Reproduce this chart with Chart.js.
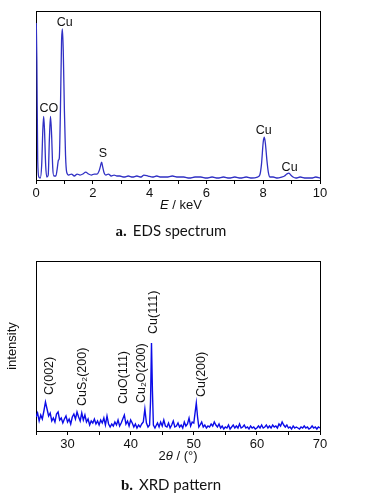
<!DOCTYPE html>
<html>
<head>
<meta charset="utf-8">
<script src="https://cdn.jsdelivr.net/npm/chart.js@4.4.1/dist/chart.umd.min.js"></script>
<style>
	body{ margin:0; background:#fff; width:370px; height:496px; position:relative; overflow:hidden; font-family:'Liberation Sans', Arial, sans-serif; }
	canvas{ position:absolute; left:0; }
	.axis-title{ position:absolute; font-size:13px; color:#111; transform:translateX(-50%); white-space:nowrap; }
	.caption{ position:absolute; font-family:Lato, 'Open Sans', sans-serif; font-size:15px; color:#111; transform:translateX(-50%); white-space:nowrap; }
	.caption b{ font-family:'Liberation Serif', serif; margin-right:6px; }
</style>
</head>
<body>
<canvas id="eds_graph" width="370" height="215" style="top:0"></canvas>
<div class="axis-title" style="left:181px; top:197px"><i>E</i> / keV</div>
<div class="caption" style="left:171px; top:221px"><b>a.</b>EDS spectrum</div>

<canvas id="xrd_graph" width="370" height="216" style="top:250px"></canvas>
<div class="axis-title" style="left:178px; top:448px">2<i>θ</i> / (°)</div>
<div class="caption" style="left:171px; top:475px"><b>b.</b>XRD pattern</div>

<script>
// EDS spectrum, energy in keV, counts in arbitrary units
const edsEnergy = [0.01, 0.03, 0.06, 0.1, 0.15, 0.2, 0.24, 0.27, 0.3, 0.34, 0.38, 0.43, 0.47, 0.51, 0.55, 0.59, 0.63, 0.7, 0.75, 0.79, 0.82,
	0.86, 0.9, 0.93, 0.96, 1, 1.04, 1.08, 1.15, 1.25, 1.35, 1.45, 1.55, 1.65, 1.75, 1.85, 1.95, 2.05, 2.15, 2.22, 2.27, 2.31, 2.35, 2.4,
	2.46, 2.55, 2.65, 2.75, 2.85, 2.95, 3.1, 3.25, 3.4, 3.55, 3.7, 3.8, 3.95, 4.1, 4.25, 4.4, 4.6, 4.8, 5, 5.2, 5.4, 5.6, 5.8, 6, 6.2,
	6.4, 6.6, 6.8, 7, 7.2, 7.4, 7.6, 7.8, 7.88, 7.94, 8, 8.04, 8.08, 8.13, 8.18, 8.24, 8.35, 8.5, 8.65, 8.75, 8.83, 8.9, 8.97, 9.05,
	9.15, 9.3, 9.5, 9.7, 9.85, 10]
const edsCounts = [158, 120, 20, 3, 2, 15, 50, 64, 50, 15, 3, 5, 40, 64, 45, 12, 4, 4, 12, 20, 22,
	70, 140, 152, 130, 70, 25, 8, 5, 6, 4, 6, 5, 6, 8, 6, 5, 6, 6, 9, 14, 18, 13, 7,
	5, 6, 4, 5, 4, 4, 3, 4, 3, 4, 3, 5, 4, 3, 4, 3, 3, 4, 3, 3, 2, 3, 3, 2, 3,
	2, 3, 2, 3, 2, 3, 2, 3, 5, 16, 38, 43, 36, 20, 8, 3, 3, 2, 3, 4, 6, 7, 5, 3,
	2, 3, 2, 2, 3, 2]
const edsTicks = [0, 2, 4, 6, 8, 10]
const edsLabels = [
	{ text:'Cu', x:1.01, y:158 },
	{ text:'CO', x:0.45, y:72 },
	{ text:'S', x:2.36, y:27 },
	{ text:'Cu', x:8.02, y:50 },
	{ text:'Cu', x:8.93, y:13 }
]

// XRD pattern, 2θ in degrees
const xrdAngle = [25, 25.25, 25.5, 25.75, 26, 26.25, 26.5, 26.75, 27, 27.25, 27.5, 27.75, 28, 28.25, 28.5, 28.75, 29, 29.25, 29.5, 29.75,
	30, 30.25, 30.5, 30.75, 31, 31.25, 31.5, 31.75, 32, 32.25, 32.5, 32.75, 33, 33.25, 33.5, 33.75, 34, 34.25, 34.5, 34.75,
	35, 35.25, 35.5, 35.75, 36, 36.25, 36.5, 36.75, 37, 37.25, 37.5, 37.75, 38, 38.25, 38.5, 38.75, 39, 39.25, 39.5, 39.75,
	40, 40.25, 40.5, 40.75, 41, 41.25, 41.5, 41.75, 42, 42.25, 42.5, 42.75, 43, 43.15, 43.3, 43.45, 43.6, 43.85, 44, 44.25,
	44.5, 44.75, 45, 45.25, 45.5, 45.75, 46, 46.25, 46.5, 46.75, 47, 47.25, 47.5, 47.75, 48, 48.25, 48.5, 48.75, 49, 49.25,
	49.5, 49.75, 50, 50.2, 50.4, 50.6, 50.8, 51, 51.25, 51.5, 51.75, 52, 52.25, 52.5, 52.75, 53, 53.25, 53.5, 53.75, 54,
	54.25, 54.5, 54.75, 55, 55.25, 55.5, 55.75, 56, 56.25, 56.5, 56.75, 57, 57.25, 57.5, 57.75, 58, 58.25, 58.5, 58.75, 59,
	59.25, 59.5, 59.75, 60, 60.25, 60.5, 60.75, 61, 61.25, 61.5, 61.75, 62, 62.25, 62.5, 62.75, 63, 63.25, 63.5, 63.75, 64,
	64.25, 64.5, 64.75, 65, 65.25, 65.5, 65.75, 66, 66.25, 66.5, 66.75, 67, 67.25, 67.5, 67.75, 68, 68.25, 68.5, 68.75, 69,
	69.25, 69.5, 69.75, 70]
const xrdIntensity = [14, 18, 10, 16, 12, 20, 29, 22, 15, 18, 10, 13, 9, 17, 19, 11, 13, 8, 12, 15,
	9, 12, 7, 14, 17, 12, 19, 14, 10, 18, 11, 16, 9, 12, 6, 10, 8, 12, 7, 10,
	6, 11, 8, 13, 6, 15, 7, 4, 7, 5, 9, 6, 11, 5, 8, 12, 16, 7, 10, 5,
	11, 8, 4, 7, 3, 6, 4, 7, 9, 22, 8, 4, 6, 30, 88, 40, 6, 3, 5, 8,
	4, 9, 5, 11, 5, 4, 8, 3, 6, 10, 4, 5, 8, 4, 6, 3, 9, 5, 7, 13,
	5, 9, 8, 18, 28, 14, 4, 6, 9, 4, 6, 3, 5, 4, 7, 5, 9, 6, 4, 7,
	3, 5, 2, 4, 3, 6, 2, 4, 6, 3, 5, 3, 7, 3, 4, 6, 3, 4, 2, 5,
	3, 4, 2, 3, 5, 3, 6, 3, 4, 6, 3, 5, 3, 6, 4, 5, 3, 7, 5, 9,
	6, 4, 6, 3, 4, 2, 5, 3, 4, 3, 2, 4, 3, 5, 3, 4, 2, 3, 5, 3,
	4, 2, 4, 3]
const xrdTicks = [30, 40, 50, 60, 70]
const xrdLabels = [
	{ text:'C(002)', x:27.1, y:36 },
	{ text:'CuS₂(200)', x:32.3, y:25 },
	{ text:'CuO(111)', x:38.8, y:27 },
	{ text:'Cu₂O(200)', x:41.7, y:28 },
	{ text:'Cu(111)', x:43.7, y:97 },
	{ text:'Cu(200)', x:51.3, y:34 }
]


const FONT = "'Liberation Sans', Arial, sans-serif"

function toPoints(xs, ys){
	return xs.map((x, i) => ({ x, y:ys[i] }))
}

// black frame round the plot area, under the curve
const framePlugin = {
	id:'frame',
	beforeDatasetsDraw(chart){
		const { ctx, chartArea:a } = chart
		ctx.save()
		ctx.strokeStyle = '#000'
		ctx.lineWidth = 1
		ctx.strokeRect(Math.round(a.left) + 0.5, Math.round(a.top) + 0.5, Math.round(a.right - a.left), Math.round(a.bottom - a.top))
		ctx.restore()
	}
}

// peak labels, placed in data coordinates
const peakLabelPlugin = {
	id:'peakLabels',
	afterDatasetsDraw(chart, args, opts){
		const { ctx, scales } = chart
		ctx.save()
		ctx.fillStyle = '#111'
		ctx.font = opts.font
		for(const l of opts.items){
			const px = scales.x.getPixelForValue(l.x)
			const py = scales.y.getPixelForValue(l.y)
			if(opts.vertical){
				ctx.translate(px, py)
				ctx.rotate(-Math.PI / 2)
				ctx.textAlign = 'left'
				ctx.textBaseline = 'middle'
				ctx.fillText(l.text, 0, 0)
				ctx.setTransform(1, 0, 0, 1, 0, 0)
			}
			else {
				ctx.textAlign = 'center'
				ctx.textBaseline = 'middle'
				ctx.fillText(l.text, px, py)
			}
		}
		ctx.restore()
	}
}

function makeChart(id, points, color, width, xMin, xMax, step, tickValues, labels, vertical, yTitle){
	return new Chart(document.getElementById(id), {
		type:'scatter',
		data:{
			datasets:[
				{
					data:points,
					showLine:true,
					borderColor:color,
					borderWidth:width,
					pointRadius:0,
					cubicInterpolationMode:vertical ? 'default' : 'monotone',
					tension:0
				}
			]
		},
		options:{
			responsive:false,
			animation:false,
			events:[],
			layout:{ padding:{ top:11, right:50, left:0, bottom:0 } },
			plugins:{
				legend:{ display:false },
				tooltip:{ enabled:false },
				peakLabels:{ items:labels, vertical, font:`12.5px ${FONT}` }
			},
			scales:{
				x:{
					type:'linear',
					min:xMin,
					max:xMax,
					afterFit:s => { s.height = 35 },
					afterBuildTicks:s => { s.ticks = []; for(let v = xMin; v <= xMax; v += step) s.ticks.push({ value:v }) },
					ticks:{
						autoSkip:false,
						maxRotation:0,
						padding:2,
						color:'#111',
						font:{ family:FONT, size:13 },
						callback:v => tickValues.includes(v) ? String(v) : ''
					},
					grid:{ drawOnChartArea:false, drawTicks:true, tickLength:4, tickColor:'#000', color:'#000' },
					border:{ display:false }
				},
				y:{
					min:0,
					max:170,
					afterFit:s => { s.width = 36 },
					ticks:{ display:false },
					grid:{ display:false },
					border:{ display:false },
					title:{
						display:!!yTitle,
						text:yTitle || '',
						color:'#111',
						font:{ family:FONT, size:13 },
						padding:{ top:5, bottom:0 }
					}
				}
			}
		},
		plugins:[framePlugin, peakLabelPlugin]
	})
}

makeChart('eds_graph', toPoints(edsEnergy, edsCounts), '#3030c4', 1.3, 0, 10, 1, edsTicks, edsLabels, false, null)
makeChart('xrd_graph', toPoints(xrdAngle, xrdIntensity), '#0c0ce8', 1.4, 25, 70, 5, xrdTicks, xrdLabels, true, 'intensity')
</script>
</body>
</html>
